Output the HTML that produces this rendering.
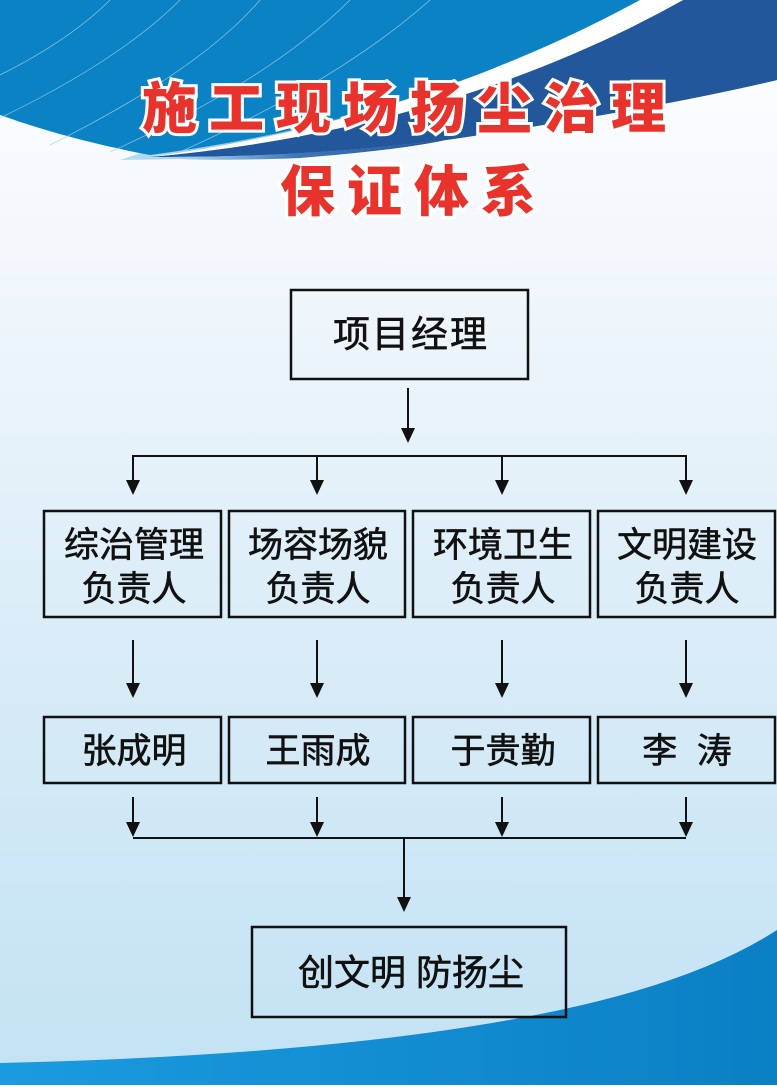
<!DOCTYPE html>
<html><head><meta charset="utf-8"><style>
html,body{margin:0;padding:0;}
body{width:777px;height:1085px;overflow:hidden;}
</style></head><body>
<svg width="777" height="1085" viewBox="0 0 777 1085" xmlns="http://www.w3.org/2000/svg">
<defs>
<linearGradient id="bg" x1="0" y1="0" x2="0" y2="1">
<stop offset="0" stop-color="#ffffff"/>
<stop offset="0.22" stop-color="#f3f8fc"/>
<stop offset="0.6" stop-color="#d9ecf7"/>
<stop offset="1" stop-color="#c2e2f4"/>
</linearGradient>
<linearGradient id="band" x1="0" y1="0" x2="1" y2="0">
<stop offset="0" stop-color="#b5def4"/>
<stop offset="0.2" stop-color="#8fc4e8"/>
<stop offset="0.5" stop-color="#3f75b5"/>
<stop offset="1" stop-color="#22559a"/>
</linearGradient>
<linearGradient id="bot" x1="0" y1="0" x2="1" y2="0">
<stop offset="0" stop-color="#1a9be0"/>
<stop offset="1" stop-color="#0b7fc4"/>
</linearGradient>
</defs>
<rect width="777" height="1085" fill="url(#bg)"/>
<!-- dark band -->
<path d="M777 0 L777 80 Q650 110 446 140 Q300 158 120 160 L150 150 Z" fill="url(#band)"/>
<path d="M683 0 L777 0 L777 80 Q650 110 446 140 Q300 158 150 157 Q450 130 683 0 Z" fill="#23579b"/>
<path d="M150 157 Q300 158 446 140 Q400 150 300 158 Q200 162 150 157 Z" fill="url(#band)"/>
<!-- white stripe -->
<path d="M640 0 L683 0 Q450 130 150 157 Q420 120 640 0 Z" fill="#ffffff"/>
<!-- blue top -->
<path d="M0 0 L640 0 Q420 120 150 155 Q70 140 0 115 Z" fill="#0a82c4"/>
<g stroke="#9fd0ef" stroke-width="0.8" fill="none" opacity="0.8">
<path d="M0 75 Q70 40 110 0"/><path d="M0 118 Q120 60 180 0"/><path d="M50 145 Q200 70 260 0"/>
<path d="M110 152 Q270 80 350 0"/><path d="M180 152 Q340 80 430 0"/>
</g>
<!-- bottom blue -->
<path d="M0 1063 Q350 1055 560 1010 Q700 980 777 930 L777 1085 L0 1085 Z" fill="url(#bot)"/>
<!-- title -->
<g font-family="'Liberation Sans','Noto Sans CJK SC',sans-serif" font-weight="900" font-size="55" fill="#e8332d" stroke="#ffffff" stroke-width="6" paint-order="stroke" text-anchor="middle">
<text x="410" y="128" letter-spacing="12">施工现场扬尘治理</text>
<text x="414" y="211" letter-spacing="12">保证体系</text>
</g>
<!-- boxes -->
<g fill="none" stroke="#111" stroke-width="2.5">
<rect x="291" y="290" width="237" height="89"/>
<rect x="44" y="511" width="177" height="106"/>
<rect x="229" y="511" width="176" height="106"/>
<rect x="413" y="511" width="177" height="106"/>
<rect x="598" y="511" width="177" height="106"/>
<rect x="44" y="717" width="177" height="66"/>
<rect x="229" y="717" width="176" height="66"/>
<rect x="413" y="717" width="177" height="66"/>
<rect x="598" y="717" width="177" height="66"/>
<rect x="252" y="927" width="314" height="90"/>
</g>
<!-- connectors -->
<g stroke="#111" stroke-width="2" fill="none">
<line x1="408" y1="388" x2="408" y2="430"/>
<polyline points="133,490 133,456 686,456 686,490"/>
<line x1="317" y1="456" x2="317" y2="482"/>
<line x1="502" y1="456" x2="502" y2="482"/>
<line x1="133" y1="640" x2="133" y2="690"/><line x1="317" y1="640" x2="317" y2="690"/>
<line x1="502" y1="640" x2="502" y2="690"/><line x1="686" y1="640" x2="686" y2="690"/>
<line x1="133" y1="797" x2="133" y2="830"/><line x1="317" y1="797" x2="317" y2="830"/>
<line x1="502" y1="797" x2="502" y2="830"/><line x1="686" y1="797" x2="686" y2="830"/>
<line x1="133" y1="838" x2="686" y2="838"/>
<line x1="404" y1="838" x2="404" y2="902"/>
</g>
<g fill="#111">
<path d="M401 428 L415 428 L408 443 Z"/>
<path d="M126 480 L140 480 L133 495 Z"/><path d="M310 480 L324 480 L317 495 Z"/>
<path d="M495 480 L509 480 L502 495 Z"/><path d="M679 480 L693 480 L686 495 Z"/>
<path d="M126 683 L140 683 L133 698 Z"/><path d="M310 683 L324 683 L317 698 Z"/>
<path d="M495 683 L509 683 L502 698 Z"/><path d="M679 683 L693 683 L686 698 Z"/>
<path d="M126 822 L140 822 L133 837 Z"/><path d="M310 822 L324 822 L317 837 Z"/>
<path d="M495 822 L509 822 L502 837 Z"/><path d="M679 822 L693 822 L686 837 Z"/>
<path d="M397 897 L411 897 L404 912 Z"/>
</g>
<!-- labels -->
<g font-family="'Liberation Sans','Noto Sans CJK SC',sans-serif" font-size="35" fill="#111" stroke="#111" stroke-width="0.6" text-anchor="middle">
<text x="411" y="347" font-size="37" letter-spacing="2">项目经理</text>
<text x="134" y="557">综治管理</text><text x="134" y="601">负责人</text>
<text x="318" y="557">场容场貌</text><text x="318" y="601">负责人</text>
<text x="503" y="557">环境卫生</text><text x="503" y="601">负责人</text>
<text x="687" y="557">文明建设</text><text x="687" y="601">负责人</text>
<text x="134" y="763">张成明</text>
<text x="318" y="763">王雨成</text>
<text x="503" y="763">于贵勤</text>
<text x="687" y="763" xml:space="preserve">李  涛</text>
<text x="411" y="985" font-size="36" xml:space="preserve">创文明 防扬尘</text>
</g>
</svg>
</body></html>
